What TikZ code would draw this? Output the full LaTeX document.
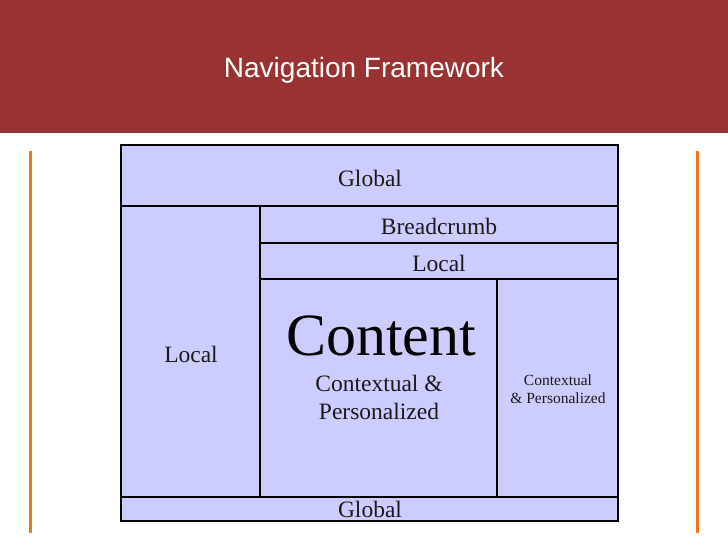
\documentclass[tikz,border=0pt]{standalone}
\usepackage{fontspec}
\setmainfont{Liberation Serif}
\newfontfamily\titlefont{Liberation Sans}
\definecolor{hdr}{HTML}{993333}
\definecolor{boxfill}{HTML}{CCCCFF}
\definecolor{orng}{HTML}{EE7722}
\definecolor{txt}{HTML}{1A1A1A}
\tikzset{
  region/.style={draw=black, fill=boxfill, line width=1.3pt},
  lbl/.style={inner sep=0pt, text=txt, font=\fontsize{23.5}{27}\selectfont},
  smalllbl/.style={inner sep=0pt, text=txt, align=center, font=\fontsize{15.5}{18.5}\selectfont},
  sideline/.style={draw=orng, line width=3pt}
}
\begin{document}
\begin{tikzpicture}[x=1pt,y=-1pt]
\useasboundingbox (0,0) rectangle (728,546);
\fill[white] (0,0) rectangle (728,546);
\fill[hdr] (0,0) rectangle (728,133);
\node[text=white, inner sep=0pt, font=\titlefont\fontsize{28}{32}\selectfont] (title) at (364,70) {Navigation Framework};
% side lines
\coordinate (l1) at (30,151); \coordinate (l2) at (30,533);
\coordinate (r1) at (697,151); \coordinate (r2) at (697,533);
\draw[sideline] (l1) -- (l2);
\draw[sideline] (r1) -- (r2);
% regions
\draw[region] (121,145) rectangle (618,206);
\draw[region] (121,206) rectangle (260,497);
\draw[region] (260,206) rectangle (618,243);
\draw[region] (260,243) rectangle (618,279);
\draw[region] (260,279) rectangle (497,497);
\draw[region] (497,279) rectangle (618,497);
\draw[region] (121,497) rectangle (618,521);
% labels
\node[lbl] (gtop) at (370,178) {Global};
\node[lbl] (lleft) at (191,354) {Local};
\node[lbl] (bc) at (439,226) {Breadcrumb};
\node[lbl] (lrow) at (439,263) {Local};
\node[inner sep=0pt, text=black, font=\fontsize{60}{66}\selectfont] (content) at (381,336) {Content};
\node[lbl] (ctx1) at (379,383) {Contextual \&};
\node[lbl] (ctx2) at (379,411) {Personalized};
\node[smalllbl] (ctxs) at (558,389) {Contextual\\\& Personalized};
\node[lbl] (gbot) at (370,509.5) {Global};
\end{tikzpicture}
\end{document}
